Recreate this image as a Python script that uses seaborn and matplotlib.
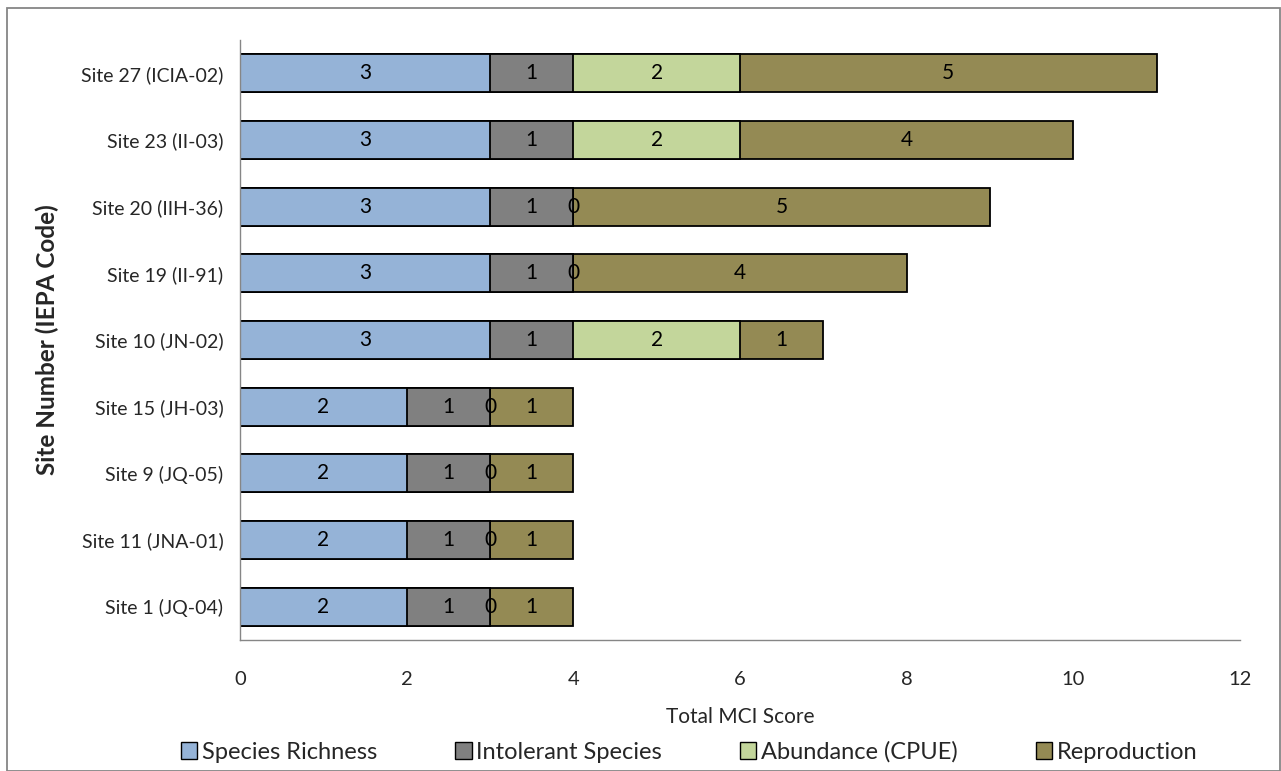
import matplotlib
matplotlib.use("Agg")
import matplotlib.pyplot as plt
import seaborn as sns
import pandas as pd
import numpy as np
from matplotlib.patches import Rectangle, Patch

sites = ["Site 27 (ICIA-02)", "Site 23 (II-03)", "Site 20 (IIH-36)", "Site 19 (II-91)",
         "Site 10 (JN-02)", "Site 15 (JH-03)", "Site 9 (JQ-05)", "Site 11 (JNA-01)",
         "Site 1 (JQ-04)"]
species_richness = [3, 3, 3, 3, 3, 2, 2, 2, 2]
intolerant_species = [1, 1, 1, 1, 1, 1, 1, 1, 1]
abundance_cpue = [2, 2, 0, 0, 2, 0, 0, 0, 0]
reproduction = [5, 4, 5, 4, 1, 1, 1, 1, 1]

series_names = ["Species Richness", "Intolerant Species", "Abundance (CPUE)", "Reproduction"]
colors = ["#95B3D7", "#808080", "#C3D69B", "#948A54"]

sns.set_style("white")
plt.rcParams['font.family'] = ['Lato', 'DejaVu Sans']

df = pd.DataFrame({"site": sites,
                   "Species Richness": species_richness,
                   "Intolerant Species": intolerant_species,
                   "Abundance (CPUE)": abundance_cpue,
                   "Reproduction": reproduction})
cum = df[series_names].cumsum(axis=1)

fig = plt.figure(figsize=(12.81, 7.71), dpi=100)
ax = fig.add_axes([240/1281, 1-640/771, 1000/1281, 600/771])

for name, col in reversed(list(zip(series_names, colors))):
    sns.barplot(x=cum[name], y=df["site"], orient="h", color=col, saturation=1,
                edgecolor="black", linewidth=1.3, width=0.57, ax=ax)

starts = cum.shift(1, axis=1).fillna(0)
for i in range(len(sites)):
    for name in series_names:
        v = df[name].iloc[i]
        mid = starts[name].iloc[i] + v / 2
        ax.text(mid, i, f"{v}", ha="center", va="center", fontsize=15, color="black")

ax.set_xlim(0, 12)
ax.set_ylim(8.5, -0.5)
ax.set_xticks(range(0, 13, 2))
ax.tick_params(axis="both", labelsize=14, length=0)
ax.tick_params(axis="x", labelsize=14.5, pad=22)
ax.tick_params(axis="y", pad=12)
for s in ["top", "right"]:
    ax.spines[s].set_visible(False)
for s in ["left", "bottom"]:
    ax.spines[s].set_color("#868686")
    ax.spines[s].set_linewidth(1)
ax.set_xlabel("Total MCI Score", fontsize=15, labelpad=14)
ax.set_ylabel("Site Number (IEPA Code)", fontsize=17.5, fontweight="bold", labelpad=16)

handles = [Patch(facecolor=c, edgecolor="black", linewidth=1) for c in colors]
fig.legend(handles, series_names, loc="center", bbox_to_anchor=(0.538, 1-752/771),
           ncol=4, frameon=False, fontsize=17, handlelength=0.7, handleheight=0.7,
           handletextpad=0.2, columnspacing=3.3)

fig.patches.append(Rectangle((7/1281, 0), 1 - 7/1281 - 1/1281, 1 - 8/771,
                             transform=fig.transFigure, fill=False,
                             edgecolor="#868686", linewidth=1.3))

fig.savefig("out.png", dpi=100)
